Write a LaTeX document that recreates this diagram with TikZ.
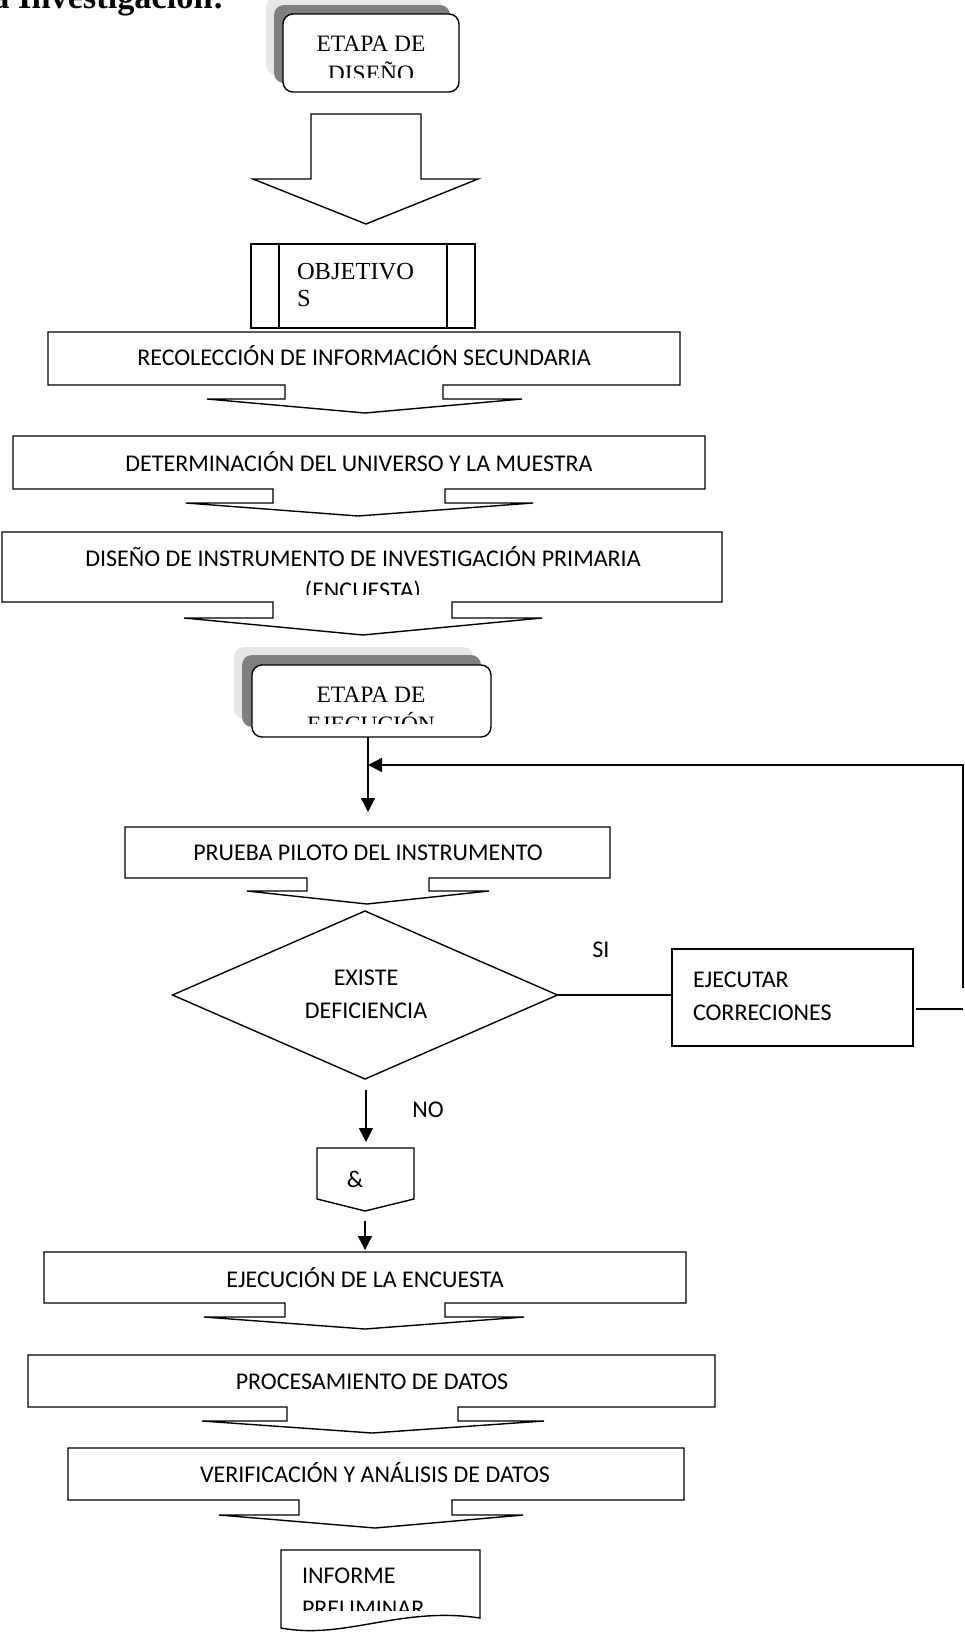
\documentclass[tikz,border=0pt]{standalone}
\usepackage{fontspec}
\setmainfont{Carlito}
\newfontfamily\bookserif{Liberation Serif}
\usetikzlibrary{arrows.meta,shapes.geometric}
\definecolor{shadelight}{HTML}{E6E6E6}
\definecolor{shadedark}{HTML}{7F7F7F}
\begin{document}
\begin{tikzpicture}[x=1pt,y=-1pt,
  every node/.style={inner sep=0pt, outer sep=0pt},
  ln/.style={line width=1.4pt, line join=miter},
  lbl/.style={anchor=base, font=\fontsize{24}{28}\selectfont},
  lbll/.style={anchor=base west, font=\fontsize{24}{28}\selectfont},
  serlbl/.style={anchor=base, font=\bookserif\fontsize{23.5}{28}\selectfont},
  serlbll/.style={anchor=base west, font=\bookserif\fontsize{24.5}{28}\selectfont},
  arr/.style={ln, -{Triangle[length=14pt,width=14pt]}},
  stage/.style={draw=black, line width=1.4pt, rounded corners=10pt, fill=white},
  plainbox/.style={draw=black, line width=1.4pt},
]
\useasboundingbox (0,0) rectangle (965,1633);

% heading (runs off the top of the page)
\node[anchor=base east, font=\bookserif\bfseries\fontsize{34.3}{38}\selectfont] (title) at (224,8) {la Investigación:};

% ---- stage: design ----
\fill[shadelight, rounded corners=10pt] (266,-3) rectangle (442,75);
\fill[shadedark, rounded corners=10pt] (274,5) rectangle (450,83);
\node[stage, minimum width=176pt, minimum height=78pt] (stageA) at (371,53) {};
\begin{scope}
  \clip (285,16) rectangle (457,77);
  \node[serlbl] (stageAa) at (371,51) {ETAPA DE};
  \node[serlbl] (stageAb) at (371,81) {DISEÑO};
\end{scope}

% block arrow
\draw[ln] (311,114) -- (421,114) -- (421,179) -- (478,179) -- (366,224) -- (253,179) -- (311,179) -- cycle;

% objectives (predefined process)
\node[plainbox, minimum width=224pt, minimum height=84pt] (obj) at (363,286) {};
\draw[ln] (279,244) -- (279,328) (447,244) -- (447,328);
\node[serlbll] (objA) at (297,279) {OBJETIVO};
\node[serlbll] (objB) at (297,306) {S};

% ---- boxes with downward callout arrows ----
\draw[ln] (285,385) -- (48,385) -- (48,332) -- (680,332) -- (680,385) -- (443,385) -- (443,399) -- (522,399) -- (365,413) -- (207,399) -- (285,399) -- cycle;
\node[lbl] (recol) at (364,365) {RECOLECCIÓN DE INFORMACIÓN SECUNDARIA};

\draw[ln] (273,489) -- (13,489) -- (13,436) -- (705,436) -- (705,489) -- (445,489) -- (445,503) -- (533,503) -- (358,516) -- (186,503) -- (273,503) -- cycle;
\node[lbl] (deter) at (359,471) {DETERMINACIÓN DEL UNIVERSO Y LA MUESTRA};

\draw[ln] (273,602) -- (2,602) -- (2,532) -- (722,532) -- (722,602) -- (452,602) -- (452,618) -- (542,618) -- (363,635) -- (184,618) -- (273,618) -- cycle;
\begin{scope}
  \clip (4,534) rectangle (720,594);
  \node[lbl] (instrA) at (363,566) {DISEÑO DE INSTRUMENTO DE INVESTIGACIÓN PRIMARIA};
  \node[lbl] (instrB) at (363,598) {(ENCUESTA)};
\end{scope}

% ---- stage: execution ----
\fill[shadelight, rounded corners=10pt] (234,647) rectangle (473,719);
\fill[shadedark, rounded corners=10pt] (242,655) rectangle (481,727);
\node[stage, minimum width=239pt, minimum height=72pt] (stageB) at (371.5,701) {};
\begin{scope}
  \clip (254,667) rectangle (489,723);
  \node[serlbl] (stageBa) at (371,702) {ETAPA DE};
  \node[serlbl] (stageBb) at (371,732) {EJECUCIÓN};
\end{scope}

\coordinate (inA) at (368,737);
\coordinate (inB) at (368,812);
\draw[arr] (inA) -- (inB);

% pilot test
\draw[ln] (307,878) -- (125,878) -- (125,827) -- (610,827) -- (610,878) -- (429,878) -- (429,891) -- (489,891) -- (367,904) -- (247,891) -- (307,891) -- cycle;
\node[lbl] (pilot) at (368,860) {PRUEBA PILOTO DEL INSTRUMENTO};

% decision
\node[draw, ln, diamond, minimum width=385pt, minimum height=168pt] (dec) at (365,995) {};
\node[lbl] (decA) at (366,985) {EXISTE};
\node[lbl] (decB) at (366,1018) {DEFICIENCIA};

% corrections
\node[plainbox, minimum width=241pt, minimum height=97pt] (corr) at (792.5,997.5) {};
\node[lbll] (corrA) at (693,987) {EJECUTAR};
\node[lbll] (corrB) at (693,1020) {CORRECIONES};
\draw[ln] (dec.east) -- (corr.west |- dec.east);
\node[lbl] (si) at (601,957) {SI};

% loop back to the pilot test
\coordinate (fbA) at (916,1009);
\coordinate (fbB) at (963,1009);
\coordinate (fbC) at (963,988);
\coordinate (fbD) at (963,765);
\coordinate (fbE) at (368,765);
\draw[ln] (fbA) -- (fbB);
\draw[arr] (fbC) -- (fbD) -- (fbE);

% "no" branch
\coordinate (noA) at (366,1090);
\coordinate (noB) at (366,1142);
\draw[arr] (noA) -- (noB);
\node[lbl] (no) at (428,1117) {NO};

% off-page connector
\draw[ln] (317,1148) -- (414,1148) -- (414,1199) -- (365,1211) -- (317,1199) -- cycle;
\node[lbl] (amp) at (355,1187) {\&};
\coordinate (ampA) at (365,1221);
\coordinate (ampB) at (365,1250);
\draw[arr] (ampA) -- (ampB);

% survey and processing
\draw[ln] (285,1303) -- (44,1303) -- (44,1252) -- (686,1252) -- (686,1303) -- (445,1303) -- (445,1317) -- (524,1317) -- (365,1329) -- (204,1317) -- (285,1317) -- cycle;
\node[lbl] (survey) at (365,1287) {EJECUCIÓN DE LA ENCUESTA};

\draw[ln] (287,1407) -- (28,1407) -- (28,1355) -- (715,1355) -- (715,1407) -- (458,1407) -- (458,1421) -- (544,1421) -- (372,1433) -- (202,1421) -- (287,1421) -- cycle;
\node[lbl] (proc) at (372,1389) {PROCESAMIENTO DE DATOS};

\draw[ln] (299,1500) -- (68,1500) -- (68,1448) -- (684,1448) -- (684,1500) -- (452,1500) -- (452,1515) -- (523,1515) -- (375,1528) -- (219,1515) -- (299,1515) -- cycle;
\node[lbl] (verif) at (375,1482) {VERIFICACIÓN Y ANÁLISIS DE DATOS};

% preliminary report (document shape)
\draw[ln] (281,1628) -- (281,1550) -- (480,1550) -- (480,1618) .. controls (400,1606) and (345,1640) .. (281,1628) -- cycle;
\begin{scope}
  \clip (283,1552) rectangle (478,1610);
  \node[lbll] (repA) at (302,1583) {INFORME};
  \node[lbll] (repB) at (302,1616) {PRELIMINAR};
\end{scope}
\end{tikzpicture}
\end{document}
